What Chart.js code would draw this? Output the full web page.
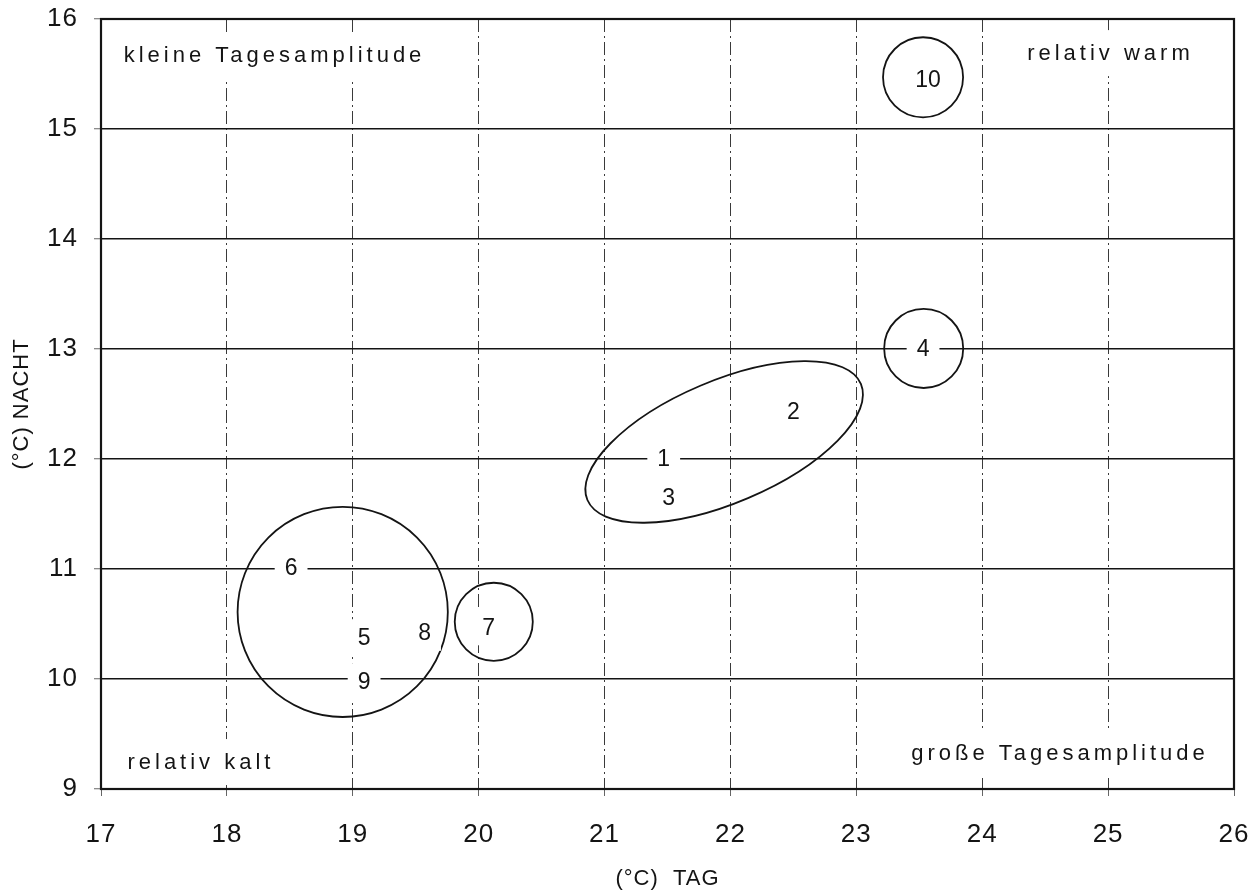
<!DOCTYPE html>
<html lang="de">
<head>
<meta charset="utf-8">
<title>Tag- und Nachttemperaturen</title>
<script src="https://cdn.jsdelivr.net/npm/chart.js@4.4.1/dist/chart.umd.min.js"></script>
<style>
  html, body { margin: 0; padding: 0; background: #fff; }
  #box { width: 1257px; height: 895px; }
</style>
</head>
<body>
<div id="box"><canvas id="tagNachtChart"></canvas></div>
<script>
// Stationen 1-10: Temperatur am Tag (x) und in der Nacht (y), in °C
const stationen = ['1', '2', '3', '4', '5', '6', '7', '8', '9', '10'];
const tagWerte = [21.47, 22.50, 21.51, 23.53, 19.09, 18.51, 20.08, 19.57, 19.09, 23.57];
const nachtWerte = [12.00, 12.43, 11.65, 13.00, 10.38, 11.01, 10.47, 10.42, 9.98, 15.45];

// Achsen
const xTicks = [17, 18, 19, 20, 21, 22, 23, 24, 25, 26];
const yTicks = [9, 10, 11, 12, 13, 14, 15, 16];

// Gruppen (Ellipse + Kreise) in Achseneinheiten von TAG
const gruppeX = [21.95, 23.535, 18.92, 20.12, 23.53];
const gruppeY = [12.155, 13.005, 10.61, 10.52, 15.47];
const gruppeHalbachseA = [1.18, 0.314, 0.835, 0.31, 0.318];
const gruppeHalbachseB = [0.485, 0.314, 0.835, 0.31, 0.318];
const gruppeWinkel = [23, 0, 0, 0, 0];

// Beschriftung der Ecken
const eckText = ['kleine Tagesamplitude', 'relativ warm', 'relativ kalt', 'große Tagesamplitude'];
const eckX = [17.18, 25.68, 17.21, 25.80];
const eckY = [15.67, 15.69, 9.245, 9.33];
const eckAusrichtung = ['left', 'right', 'left', 'right'];

const schrift = '"Liberation Sans", Arial, Helvetica, sans-serif';
const schwarz = '#141414';

Chart.defaults.font.family = schrift;
Chart.defaults.color = schwarz;

// Kreise, Nummern und Ecktexte selbst zeichnen
const zeichnenPlugin = {
    id: 'gruppenUndNummern',
    beforeDraw(chart) {
        chart.ctx.letterSpacing = '1px';
    },
    afterDatasetsDraw(chart) {
        const { ctx, scales: { x, y } } = chart;
        const pxProGrad = x.getPixelForValue(1) - x.getPixelForValue(0);
        ctx.save();

        // Ellipse und Kreise
        ctx.strokeStyle = schwarz;
        ctx.lineWidth = 1.8;
        gruppeX.forEach((gx, i) => {
            ctx.beginPath();
            ctx.ellipse(
                x.getPixelForValue(gx), y.getPixelForValue(gruppeY[i]),
                gruppeHalbachseA[i] * pxProGrad, gruppeHalbachseB[i] * pxProGrad,
                -gruppeWinkel[i] * Math.PI / 180, 0, 2 * Math.PI
            );
            ctx.stroke();
        });

        // Stationsnummern mit weißem Hintergrund
        ctx.letterSpacing = '0px';
        ctx.font = '23px ' + schrift;
        ctx.textAlign = 'center';
        ctx.textBaseline = 'middle';
        const punkte = chart.getDatasetMeta(0).data;
        punkte.forEach((p, i) => {
            const w = ctx.measureText(stationen[i]).width + 20;
            ctx.fillStyle = '#fff';
            ctx.fillRect(p.x - w / 2, p.y - 18, w, 36);
            ctx.fillStyle = schwarz;
            ctx.fillText(stationen[i], p.x, p.y + 1);
        });

        // Ecktexte
        ctx.letterSpacing = '4px';
        ctx.font = '22px ' + schrift;
        eckText.forEach((t, i) => {
            const px = x.getPixelForValue(eckX[i]);
            const py = y.getPixelForValue(eckY[i]);
            const w = ctx.measureText(t).width;
            const links = eckAusrichtung[i] === 'left' ? px : px - w;
            ctx.fillStyle = '#fff';
            ctx.fillRect(links - 8, py - 23, w + 16, 46);
            ctx.fillStyle = schwarz;
            ctx.textAlign = 'left';
            ctx.fillText(t, links, py + 1);
        });
        ctx.restore();
    },
    afterDraw(chart) {
        const { ctx, chartArea: a } = chart;
        ctx.save();
        ctx.strokeStyle = schwarz;
        ctx.lineWidth = 2.2;
        ctx.strokeRect(a.left, a.top, a.right - a.left, a.bottom - a.top);
        ctx.restore();
    }
};

// Achsen sollen keinen eigenen Rand für die Randbeschriftungen fordern
function ohneRand(s) {
    s.paddingTop = 0;
    s.paddingBottom = 0;
    s.paddingLeft = 0;
    s.paddingRight = 0;
}

function zeichneDiagramm() {
    const ctx = document.getElementById('tagNachtChart').getContext('2d');
    new Chart(ctx, {
        type: 'scatter',
        data: {
            datasets: [{
                label: 'Stationen',
                data: tagWerte.map((t, i) => ({ x: t, y: nachtWerte[i] })),
                pointRadius: 0,
                pointHoverRadius: 0
            }]
        },
        options: {
            responsive: true,
            maintainAspectRatio: false,
            animation: false,
            layout: { padding: { top: 19, right: 23, left: 0, bottom: 0 } },
            plugins: {
                legend: { display: false },
                tooltip: { enabled: false }
            },
            scales: {
                x: {
                    type: 'linear',
                    min: 17,
                    max: 26,
                    afterBuildTicks: s => { s.ticks = xTicks.map(v => ({ value: v })); },
                    afterFit: s => { s.height = 106; ohneRand(s); },
                    grid: { color: '#3a3a3a', lineWidth: 1, tickLength: 7, tickColor: '#666' },
                    border: { display: false, dash: [13, 4, 2, 4] },
                    ticks: { font: { size: 26 }, padding: 23, color: schwarz, maxRotation: 0 },
                    title: {
                        display: true,
                        text: '(°C)  TAG',
                        font: { size: 22 },
                        padding: { top: 0, bottom: 3 },
                        color: schwarz
                    }
                },
                y: {
                    type: 'linear',
                    min: 9,
                    max: 16,
                    afterBuildTicks: s => { s.ticks = yTicks.map(v => ({ value: v })); },
                    afterFit: s => { s.width = 101; ohneRand(s); },
                    grid: { color: schwarz, lineWidth: 1.5, tickLength: 7, tickColor: '#666', tickWidth: 1 },
                    border: { display: false },
                    ticks: { font: { size: 26 }, padding: 16, color: schwarz },
                    title: {
                        display: true,
                        text: '(°C) NACHT',
                        font: { size: 22 },
                        padding: { top: 9, bottom: 0 },
                        color: schwarz
                    }
                }
            }
        },
        plugins: [zeichnenPlugin]
    });
}

window.onload = zeichneDiagramm;
</script>
</body>
</html>
